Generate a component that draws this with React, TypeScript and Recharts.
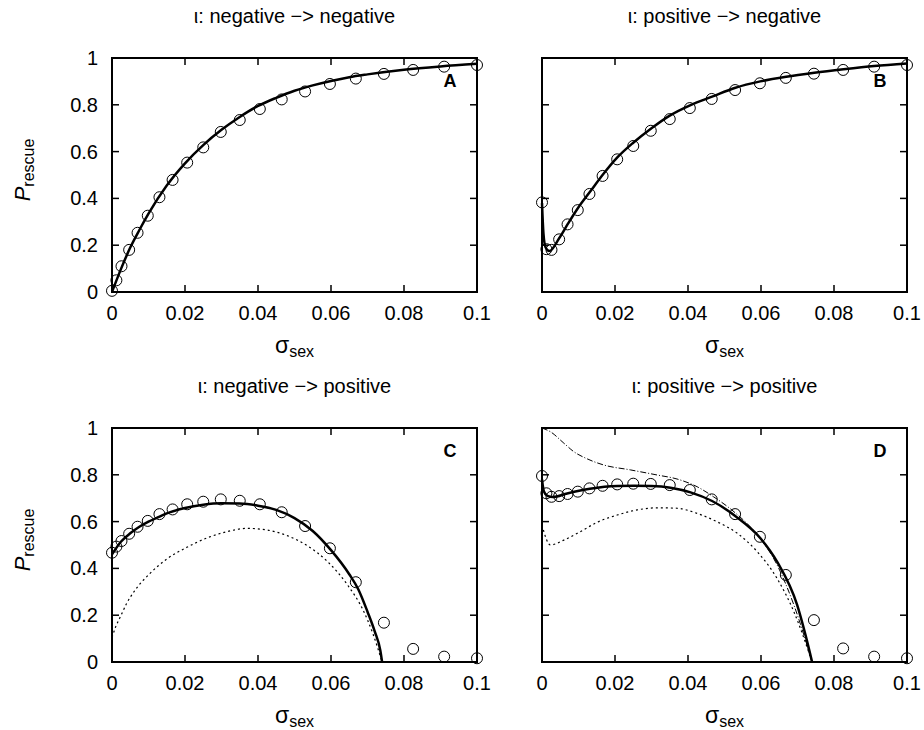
import React from 'react'
import { ComposedChart, Line, Scatter, XAxis, YAxis, ReferenceLine } from 'recharts'

// simulation grid (sigma_sex) shared by all four panels
const sigmaGrid = [0, 0.0012, 0.0026, 0.0047, 0.007, 0.0098, 0.013, 0.0166, 0.0206, 0.025, 0.0298, 0.035, 0.0405, 0.0465, 0.0529, 0.0597, 0.0668, 0.0745, 0.0825, 0.091, 0.1]

// simulated P_rescue (open circles)
const simA = [0.005, 0.05, 0.11, 0.18, 0.253, 0.326, 0.405, 0.479, 0.553, 0.618, 0.684, 0.735, 0.782, 0.823, 0.857, 0.889, 0.912, 0.932, 0.949, 0.963, 0.97]
const simB = [0.383, 0.183, 0.18, 0.225, 0.289, 0.35, 0.419, 0.496, 0.567, 0.624, 0.689, 0.739, 0.786, 0.825, 0.863, 0.892, 0.915, 0.933, 0.949, 0.963, 0.97]
const simC = [0.467, 0.493, 0.517, 0.548, 0.578, 0.603, 0.632, 0.652, 0.674, 0.685, 0.695, 0.689, 0.674, 0.64, 0.581, 0.486, 0.341, 0.168, 0.056, 0.023, 0.016]
const simD = [0.795, 0.721, 0.706, 0.709, 0.718, 0.728, 0.742, 0.753, 0.759, 0.762, 0.761, 0.756, 0.735, 0.695, 0.632, 0.535, 0.372, 0.179, 0.058, 0.023, 0.016]

// analytical curves
const solidAx = [0, 0.0025, 0.005, 0.0075, 0.01, 0.015, 0.02, 0.025, 0.03, 0.035, 0.04, 0.045, 0.05, 0.055, 0.06, 0.065, 0.07, 0.08, 0.09, 0.1]
const solidAy = [0, 0.1, 0.19, 0.265, 0.335, 0.455, 0.55, 0.628, 0.693, 0.748, 0.795, 0.83, 0.86, 0.883, 0.902, 0.918, 0.93, 0.95, 0.964, 0.975]

const solidBx = [0, 0.0004, 0.001, 0.002, 0.0047, 0.0072, 0.01, 0.0132, 0.0168, 0.0207, 0.025, 0.03, 0.035, 0.0407, 0.0466, 0.053, 0.0598, 0.0669, 0.0746, 0.0826, 0.091, 0.1]
const solidBy = [0.38, 0.25, 0.19, 0.175, 0.23, 0.294, 0.362, 0.429, 0.504, 0.576, 0.638, 0.7, 0.754, 0.799, 0.835, 0.873, 0.9, 0.92, 0.937, 0.952, 0.966, 0.977]

const solidCx = [0, 0.0025, 0.005, 0.0075, 0.01, 0.0125, 0.015, 0.02, 0.025, 0.03, 0.035, 0.04, 0.045, 0.05, 0.055, 0.06, 0.065, 0.0675, 0.07, 0.072, 0.0735, 0.074]
const solidCy = [0.46, 0.515, 0.55, 0.578, 0.6, 0.618, 0.635, 0.658, 0.672, 0.678, 0.677, 0.668, 0.65, 0.615, 0.56, 0.478, 0.375, 0.31, 0.215, 0.13, 0.05, 0]
const dotCx = [0, 0.001, 0.0025, 0.004, 0.006, 0.0105, 0.015, 0.0205, 0.026, 0.0315, 0.037, 0.0425, 0.048, 0.0535, 0.059, 0.0645, 0.069, 0.0715, 0.074]
const dotCy = [0.105, 0.15, 0.2, 0.25, 0.3, 0.38, 0.44, 0.49, 0.53, 0.557, 0.571, 0.564, 0.54, 0.497, 0.43, 0.33, 0.215, 0.12, 0]

const solidDx = [0, 0.0005, 0.0015, 0.003, 0.0069, 0.0131, 0.0206, 0.0252, 0.03, 0.0352, 0.0407, 0.0466, 0.0532, 0.0599, 0.0644, 0.0699, 0.0722, 0.074]
const solidDy = [0.78, 0.73, 0.71, 0.705, 0.72, 0.74, 0.752, 0.753, 0.752, 0.745, 0.725, 0.688, 0.621, 0.528, 0.429, 0.244, 0.115, 0]
const dotDx = [0, 0.0023, 0.006, 0.0105, 0.0151, 0.0206, 0.0261, 0.0316, 0.037, 0.0425, 0.048, 0.0535, 0.059, 0.0644, 0.069, 0.074]
const dotDy = [0.585, 0.5, 0.521, 0.557, 0.597, 0.628, 0.65, 0.659, 0.657, 0.635, 0.599, 0.55, 0.471, 0.357, 0.215, 0]
const dashDx = [0, 0.0023, 0.006, 0.0087, 0.0124, 0.0169, 0.0242, 0.0316, 0.037, 0.0425, 0.047, 0.0526, 0.059, 0.0644, 0.069, 0.074]
const dashDy = [1.0, 0.984, 0.935, 0.899, 0.868, 0.842, 0.821, 0.799, 0.782, 0.749, 0.706, 0.642, 0.543, 0.415, 0.244, 0]

const xTicks = [0, 0.02, 0.04, 0.06, 0.08, 0.1]
const yTicks = [0, 0.2, 0.4, 0.6, 0.8, 1]

const FONT = '"Liberation Sans", Arial, Helvetica, sans-serif'
const PW = 365 // plot width
const PH = 234 // plot height
const TK = 7 // inward tick length
const XGAP = 21
const YGAP = 14

type Pt = { x: number; y: number }
const pts = (xs: number[], ys: number[]): Pt[] => xs.map((x, i) => ({ x, y: ys[i] }))

type Curve = { data: Pt[]; width: number; dash?: string }

const ring = (p: any) => <circle cx={p.cx} cy={p.cy} r={5.5} fill="none" stroke="#000" strokeWidth={1} />

// ticks point inwards on all four sides (gnuplot style)
const xTick = (p: any) => {
  const ay = p.y - XGAP
  return (
    <g>
      <line x1={p.x} x2={p.x} y1={ay} y2={ay - TK} stroke="#000" strokeWidth={1.5} />
      <line x1={p.x} x2={p.x} y1={ay - PH} y2={ay - PH + TK} stroke="#000" strokeWidth={1.5} />
      <text x={p.x} y={p.y} textAnchor="middle" dominantBaseline="central" fill="#000" fontSize={20} fontFamily={FONT}>
        {p.payload.value}
      </text>
    </g>
  )
}

const yTick = (showLabel: boolean) => (p: any) => {
  const ax = p.x + YGAP
  return (
    <g>
      <line x1={ax} x2={ax + TK} y1={p.y} y2={p.y} stroke="#000" strokeWidth={1.5} />
      <line x1={ax + PW} x2={ax + PW - TK} y1={p.y} y2={p.y} stroke="#000" strokeWidth={1.5} />
      {showLabel && (
        <text x={p.x} y={p.y} textAnchor="end" dominantBaseline="central" fill="#000" fontSize={20} fontFamily={FONT}>
          {p.payload.value}
        </text>
      )}
    </g>
  )
}

const frame = { stroke: '#000', strokeWidth: 2, strokeLinecap: 'square' as const }

// chart svg is offset so the plot area starts at (112, 58) inside it
function Panel({ left, top, title, letter, showY, rings, curves }: {
  left: number; top: number; title: string; letter: string; showY: boolean; rings: Pt[]; curves: Curve[]
}) {
  const W = 507
  const H = 367
  return (
    <>
      <div style={{ position: 'absolute', left: left - 112, top: top - 58, width: W, height: H }}>
        <ComposedChart width={W} height={H} margin={{ top: 58, right: W - 112 - PW, bottom: 0, left: 0 }}>
          <XAxis dataKey="x" type="number" domain={[0, 0.1]} ticks={xTicks} interval={0} height={H - 58 - PH}
            axisLine={false} tickLine={false} tickSize={0} tickMargin={XGAP} tick={xTick} />
          <YAxis dataKey="y" type="number" domain={[0, 1]} ticks={yTicks} interval={0} width={112}
            axisLine={false} tickLine={false} tickSize={0} tickMargin={YGAP} tick={yTick(showY)} />
          <ReferenceLine x={0} {...frame} />
          <ReferenceLine x={0.1} {...frame} />
          <ReferenceLine y={0} {...frame} />
          <ReferenceLine y={1} {...frame} />
          {curves.map((c, i) => (
            <Line key={i} data={c.data} dataKey="y" type="monotone" dot={false} stroke="#000"
              strokeWidth={c.width} strokeDasharray={c.dash} isAnimationActive={false} />
          ))}
          <Scatter data={rings} dataKey="y" shape={ring} isAnimationActive={false} />
        </ComposedChart>
      </div>
      <div style={{ position: 'absolute', left: left, width: PW, top: top - 53, textAlign: 'center', fontSize: 20, fontFamily: FONT, whiteSpace: 'nowrap' }}>
        {title}
      </div>
      <div style={{ position: 'absolute', left: left + PW - 40, width: 26, top: top + 13, textAlign: 'center', fontSize: 18, fontWeight: 'bold', fontFamily: FONT }}>
        {letter}
      </div>
      <div style={{ position: 'absolute', left: left, width: PW, top: top + PH + 40, textAlign: 'center', fontFamily: FONT, whiteSpace: 'nowrap' }}>
        <span style={{ fontSize: 23 }}>σ</span><sub style={{ fontSize: 16 }}>sex</sub>
      </div>
      {showY && (
        <div style={{ position: 'absolute', left: 24, top: top + 112, transform: 'translate(-50%, -50%) rotate(-90deg)', fontFamily: FONT, whiteSpace: 'nowrap' }}>
          <i style={{ fontSize: 22 }}>P</i><sub style={{ fontSize: 16 }}>rescue</sub>
        </div>
      )}
    </>
  )
}

export default function App() {
  return (
    <div style={{ position: 'absolute', left: 0, top: 0, width: 924, height: 730, background: '#fff', overflow: 'hidden' }}>
      <Panel left={112} top={58} title="ι: negative −> negative" letter="A" showY
        rings={pts(sigmaGrid, simA)} curves={[{ data: pts(solidAx, solidAy), width: 2.5 }]} />
      <Panel left={542} top={58} title="ι: positive −> negative" letter="B" showY={false}
        rings={pts(sigmaGrid, simB)} curves={[{ data: pts(solidBx, solidBy), width: 2.5 }]} />
      <Panel left={112} top={428} title="ι: negative −> positive" letter="C" showY
        rings={pts(sigmaGrid, simC)}
        curves={[{ data: pts(dotCx, dotCy), width: 1.2, dash: '2 3' }, { data: pts(solidCx, solidCy), width: 2.5 }]} />
      <Panel left={542} top={428} title="ι: positive −> positive" letter="D" showY={false}
        rings={pts(sigmaGrid, simD)}
        curves={[
          { data: pts(dashDx, dashDy), width: 1, dash: '6 2 1 2' },
          { data: pts(dotDx, dotDy), width: 1.2, dash: '2 3' },
          { data: pts(solidDx, solidDy), width: 2.5 },
        ]} />
    </div>
  )
}
